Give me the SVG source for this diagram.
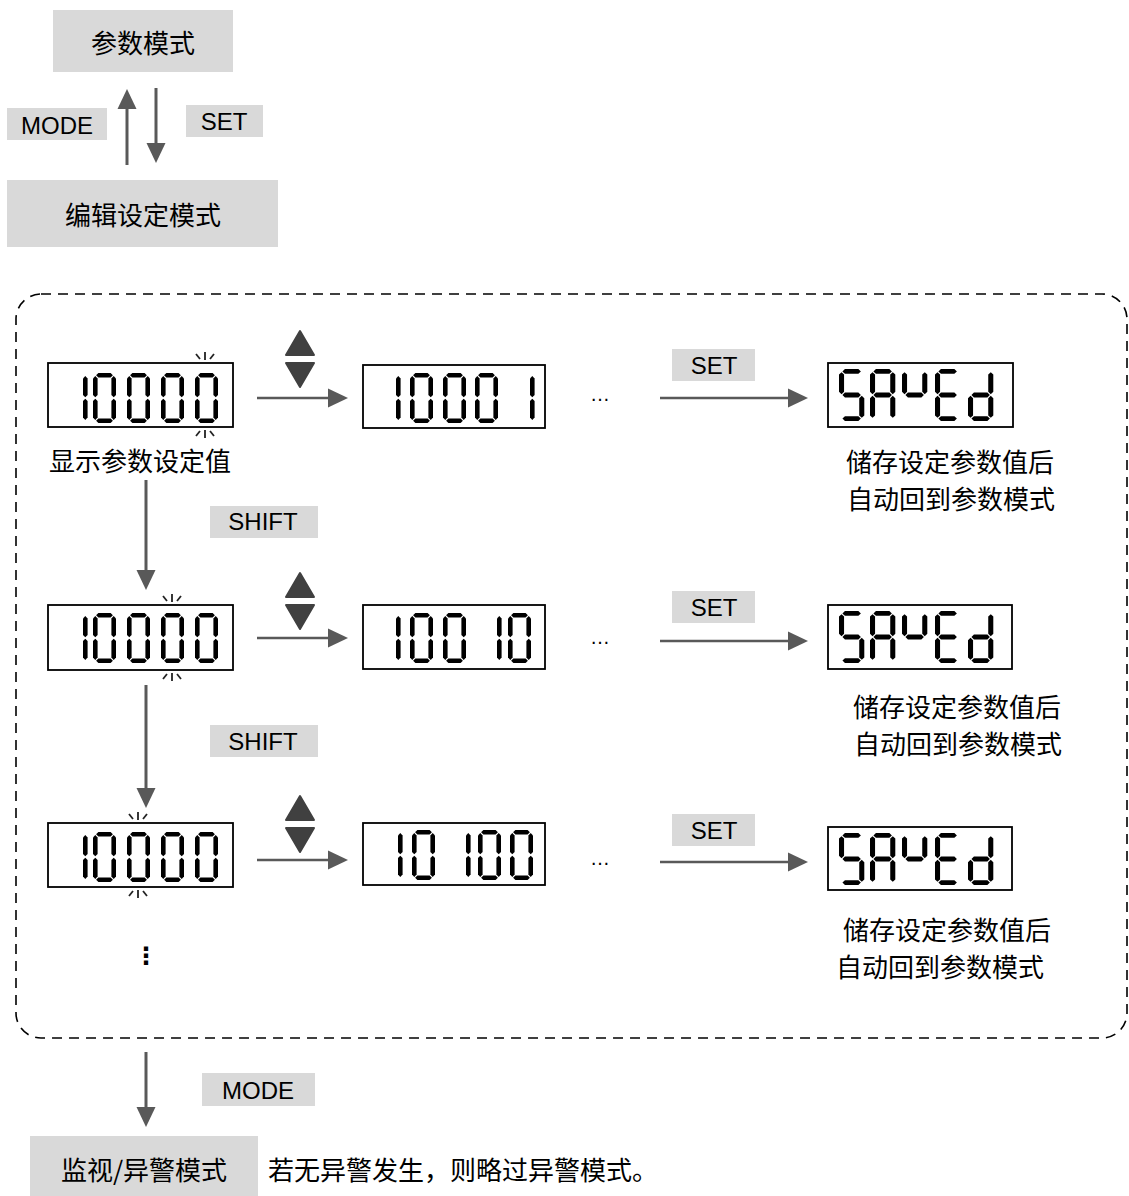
<svg xmlns="http://www.w3.org/2000/svg" width="1129" height="1196" viewBox="0 0 1129 1196">
<style>
.lbl{fill:#d9d9d9}
.t{font-family:"Liberation Sans","Noto Sans CJK SC",sans-serif;font-size:24px;fill:#000;dominant-baseline:central;text-anchor:middle}
.cn{font-family:"Noto Sans CJK SC","Liberation Sans",sans-serif;font-size:26px;fill:#000;dominant-baseline:central;text-anchor:middle}
.disp{fill:#fff;stroke:#000;stroke-width:1.8}
.lnh{stroke:#595959;stroke-width:2.5;fill:none;marker-end:url(#ah)}
.lnv{stroke:#595959;stroke-width:3;fill:none;marker-end:url(#ah)}
.tri{fill:#404040;stroke:#404040;stroke-width:2;stroke-linejoin:round}
.seg{fill:#000}
.blink{stroke:#222;stroke-width:1.8;fill:none}
</style>
<defs>
<marker id="ah" viewBox="0 0 20 20" refX="5" refY="10" markerWidth="20" markerHeight="20" markerUnits="userSpaceOnUse" orient="auto">
<path d="M0,0.5 L20,10 L0,19.5 Z" fill="#595959"/>
</marker>
<polygon id="sa" points="3.1,2.3 5.4,0 17.6,0 19.9,2.3 17.6,4.6 5.4,4.6"/>
<polygon id="sd" points="3.1,47.7 5.4,45.4 17.6,45.4 19.9,47.7 17.6,50 5.4,50"/>
<polygon id="sg" points="3.1,25 5.4,22.7 17.6,22.7 19.9,25 17.6,27.3 5.4,27.3"/>
<polygon id="sf" points="2.3,3.1 4.6,5.4 4.6,21.9 2.3,24.2 0,21.9 0,5.4"/>
<polygon id="se" points="2.3,25.8 4.6,28.1 4.6,44.6 2.3,46.9 0,44.6 0,28.1"/>
<polygon id="sb" points="20.7,3.1 23,5.4 23,21.9 20.7,24.2 18.4,21.9 18.4,5.4"/>
<polygon id="sc" points="20.7,25.8 23,28.1 23,44.6 20.7,46.9 18.4,44.6 18.4,28.1"/>
<g id="d0" class="seg"><use href="#sa"/><use href="#sb"/><use href="#sc"/><use href="#sd"/><use href="#se"/><use href="#sf"/></g>
<g id="d1" class="seg"><use href="#sf"/><use href="#se"/></g>
<g id="LS" class="seg"><use href="#sa"/><use href="#sf"/><use href="#sg"/><use href="#sc"/><use href="#sd"/></g>
<g id="LA" class="seg"><use href="#sa"/><use href="#sb"/><use href="#sc"/><use href="#se"/><use href="#sf"/><use href="#sg"/></g>
<g id="LY" class="seg"><use href="#sf"/><use href="#sg"/><use href="#sb"/></g>
<g id="LE" class="seg"><use href="#sa"/><use href="#sd"/><use href="#se"/><use href="#sf"/><use href="#sg"/></g>
<g id="Ld" class="seg"><use href="#sb"/><use href="#sc"/><use href="#sd"/><use href="#se"/><use href="#sg"/></g>
<g id="saved">
<use href="#LS" transform="translate(0,0) scale(1.1,1.04)"/>
<use href="#LA" transform="translate(31,0) scale(1.1,1.04)"/>
<use href="#LY" transform="translate(63,0) scale(1.1,1.04)"/>
<use href="#LE" transform="translate(96,0) scale(1.1,1.04)"/>
<use href="#Ld" transform="translate(129,0) scale(1.1,1.04)"/>
</g>
<g id="blinkTop" class="blink"><line x1="0" y1="-11" x2="0" y2="-3"/><line x1="-9" y1="-9" x2="-5" y2="-4"/><line x1="9" y1="-9" x2="5" y2="-4"/></g>
<g id="blinkBot" class="blink"><line x1="0" y1="11" x2="0" y2="3"/><line x1="-9" y1="9" x2="-5" y2="4"/><line x1="9" y1="9" x2="5" y2="4"/></g>
<g id="ten0000"><use href="#d1" x="83"/><use href="#d0" x="93"/><use href="#d0" x="127"/><use href="#d0" x="161"/><use href="#d0" x="195"/></g>
<g id="updown"><path class="tri" d="M300,331 L314,355 L286,355 Z"/><path class="tri" d="M286,363 L314,363 L300,387 Z"/></g>
</defs>

<!-- top mode nodes -->
<g id="node-param-mode"><rect class="lbl" x="53" y="10" width="180" height="62"/><text class="cn" x="143" y="41">参数模式</text></g>
<g id="node-edit-mode"><rect class="lbl" x="7" y="180" width="271" height="67"/><text class="cn" x="143" y="213">编辑设定模式</text></g>
<g id="label-mode-top"><rect class="lbl" x="7" y="108" width="100" height="32"/><text class="t" x="57" y="125">MODE</text></g>
<g id="label-set-top"><rect class="lbl" x="186" y="105" width="77" height="32"/><text class="t" x="224" y="121">SET</text></g>

<!-- dashed container -->
<g id="container"><rect x="16" y="294" width="1111" height="744" rx="25" ry="25" fill="none" stroke="#000" stroke-width="1.6" stroke-dasharray="10,7"/></g>

<!-- row 1 -->
<g id="disp-r1-a"><rect class="disp" x="48" y="363" width="185" height="64"/><use href="#ten0000" y="373"/><use href="#blinkTop" x="205" y="363"/><use href="#blinkBot" x="205" y="427"/></g>
<g id="label-r1-a"><text class="cn" x="140" y="459">显示参数设定值</text></g>
<g id="updown-r1"><use href="#updown"/></g>
<g id="disp-r1-b"><rect class="disp" x="363" y="365" width="182" height="63"/><use href="#d1" x="396" y="373"/><use href="#d0" x="410" y="373"/><use href="#d0" x="443" y="373"/><use href="#d0" x="475" y="373"/><use href="#d1" x="530" y="373"/></g>
<g id="dots-r1"><text class="t" x="600" y="394" style="font-size:20px">…</text></g>
<g id="label-set-r1"><rect class="lbl" x="672" y="349" width="83" height="32"/><text class="t" x="714" y="365">SET</text></g>
<g id="disp-r1-c"><rect class="disp" x="828" y="363" width="185" height="64"/><use href="#saved" x="839" y="369"/></g>
<g id="note-r1"><text class="cn" x="950" y="460">储存设定参数值后</text><text class="cn" x="951" y="497">自动回到参数模式</text></g>
<g id="label-shift-1"><rect class="lbl" x="210" y="506" width="108" height="32"/><text class="t" x="263" y="521">SHIFT</text></g>

<!-- row 2 -->
<g id="disp-r2-a"><rect class="disp" x="48" y="605" width="185" height="65"/><use href="#ten0000" y="613"/><use href="#blinkTop" x="172" y="605"/><use href="#blinkBot" x="172" y="670"/></g>
<g id="updown-r2"><use href="#updown" y="242"/></g>
<g id="disp-r2-b"><rect class="disp" x="363" y="605" width="182" height="64"/><use href="#d1" x="396" y="613"/><use href="#d0" x="410" y="613"/><use href="#d0" x="443" y="613"/><use href="#d1" x="497" y="613"/><use href="#d0" x="508" y="613"/></g>
<g id="dots-r2"><text class="t" x="600" y="637" style="font-size:20px">…</text></g>
<g id="label-set-r2"><rect class="lbl" x="672" y="591" width="83" height="32"/><text class="t" x="714" y="607">SET</text></g>
<g id="disp-r2-c"><rect class="disp" x="828" y="605" width="184" height="64"/><use href="#saved" x="839" y="611"/></g>
<g id="note-r2"><text class="cn" x="957" y="705">储存设定参数值后</text><text class="cn" x="958" y="742">自动回到参数模式</text></g>
<g id="label-shift-2"><rect class="lbl" x="210" y="725" width="108" height="32"/><text class="t" x="263" y="741">SHIFT</text></g>

<!-- row 3 -->
<g id="disp-r3-a"><rect class="disp" x="48" y="823" width="185" height="64"/><use href="#ten0000" y="832"/><use href="#blinkTop" x="138" y="823"/><use href="#blinkBot" x="138" y="887"/></g>
<g id="updown-r3"><use href="#updown" y="465"/></g>
<g id="disp-r3-b"><rect class="disp" x="363" y="823" width="182" height="62"/><use href="#d1" x="398" y="830"/><use href="#d0" x="412" y="830"/><use href="#d1" x="466" y="830"/><use href="#d0" x="478" y="830"/><use href="#d0" x="510" y="830"/></g>
<g id="dots-r3"><text class="t" x="600" y="858" style="font-size:20px">…</text></g>
<g id="label-set-r3"><rect class="lbl" x="672" y="814" width="83" height="32"/><text class="t" x="714" y="830">SET</text></g>
<g id="disp-r3-c"><rect class="disp" x="828" y="827" width="184" height="63"/><use href="#saved" x="839" y="833"/></g>
<g id="note-r3"><text class="cn" x="947" y="928">储存设定参数值后</text><text class="cn" x="940" y="965">自动回到参数模式</text></g>
<g id="vdots"><text class="t" x="146" y="956" style="font-family:'DejaVu Sans',sans-serif;font-size:24px;font-weight:bold">⋮</text></g>

<!-- bottom -->
<g id="label-mode-bottom"><rect class="lbl" x="202" y="1073" width="113" height="33"/><text class="t" x="258" y="1090">MODE</text></g>
<g id="node-monitor"><rect class="lbl" x="30" y="1136" width="228" height="60"/><text class="cn" x="144" y="1168">监视/异警模式</text></g>
<g id="note-monitor"><text class="cn" x="268" y="1168" style="text-anchor:start">若无异警发生，则略过异警模式。</text></g>

<!-- connectors -->
<g id="connectors">
<line class="lnv" x1="127" y1="165" x2="127" y2="104"/>
<line class="lnv" x1="156" y1="88" x2="156" y2="148"/>
<line class="lnh" x1="257" y1="398" x2="333" y2="398"/>
<line class="lnh" x1="660" y1="398" x2="793" y2="398"/>
<line class="lnh" x1="257" y1="638" x2="333" y2="638"/>
<line class="lnh" x1="660" y1="641" x2="793" y2="641"/>
<line class="lnh" x1="257" y1="860" x2="333" y2="860"/>
<line class="lnh" x1="660" y1="862" x2="793" y2="862"/>
<line class="lnv" x1="146" y1="480" x2="146" y2="575"/>
<line class="lnv" x1="146" y1="685" x2="146" y2="793"/>
<line class="lnv" x1="146" y1="1052" x2="146" y2="1112"/>
</g>
</svg>
